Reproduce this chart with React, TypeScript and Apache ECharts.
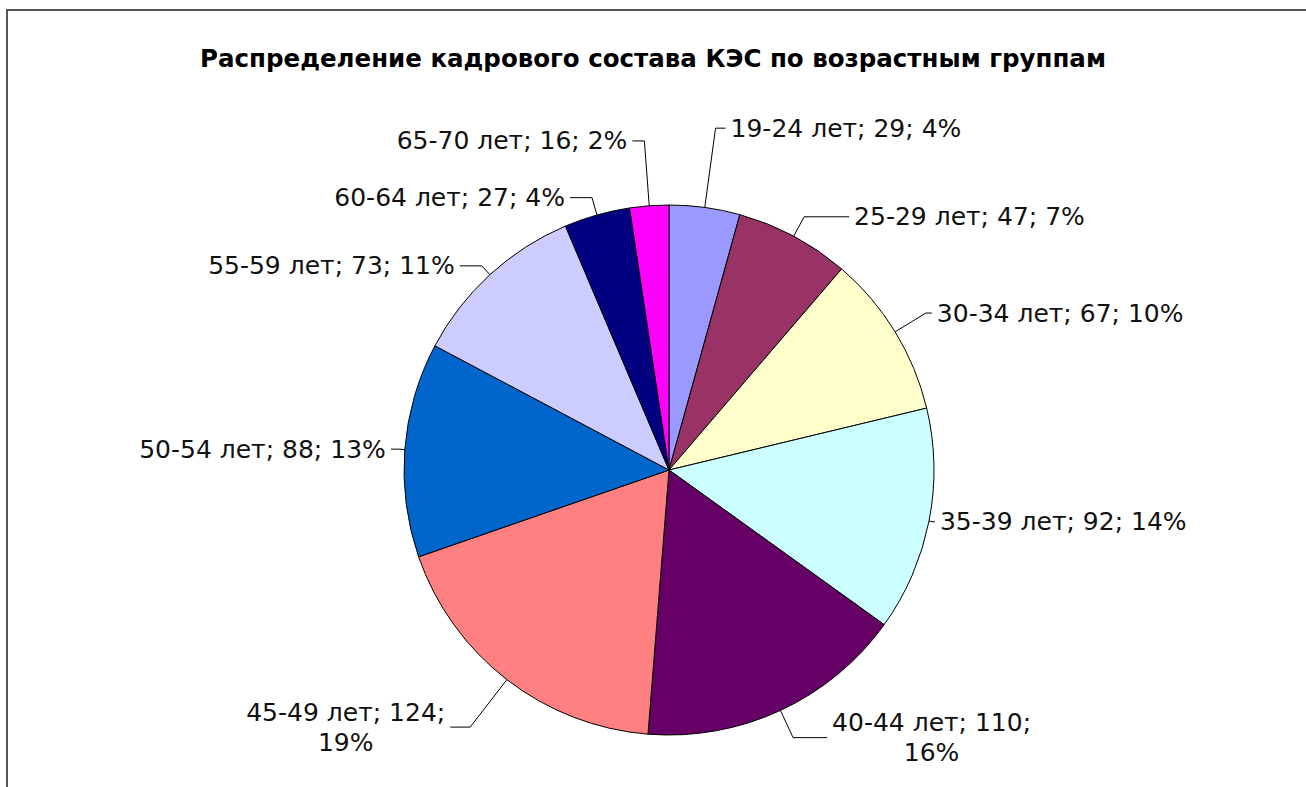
import React, { useEffect, useRef } from "react";
import * as echarts from "echarts";

const titleText = "Распределение кадрового состава КЭС по возрастным группам";
const categories = [
  "19-24 лет",
  "25-29 лет",
  "30-34 лет",
  "35-39 лет",
  "40-44 лет",
  "45-49 лет",
  "50-54 лет",
  "55-59 лет",
  "60-64 лет",
  "65-70 лет",
];
const values = [29, 47, 67, 92, 110, 124, 88, 73, 27, 16];
const colors = [
  "#9999FF",
  "#993366",
  "#FFFFCC",
  "#CCFFFF",
  "#660066",
  "#FF8080",
  "#0066CC",
  "#CCCCFF",
  "#000080",
  "#FF00FF",
];
const wrapped = ["40-44 лет", "45-49 лет"];
// leader line lengths per slice (styling)
const leadLen1 = [80, 22, 36, 4, 30, 60, 6, 12, 18, 65];
const leadLen2 = [10, 45, 6, 2, 34, 20, 8, 22, 22, 12];

export default function App() {
  const ref = useRef<HTMLDivElement>(null);
  useEffect(() => {
    if (!ref.current) return;
    const chart = echarts.init(ref.current, null, { renderer: "svg" });
    chart.setOption({
      animation: false,
      backgroundColor: "#ffffff",
      title: {
        text: titleText,
        left: "center",
        top: 41,
        textStyle: {
          fontFamily: "DejaVu Sans",
          fontWeight: "bold",
          fontSize: 24.5,
          color: "#000",
        },
      },
      graphic: [
        {
          type: "rect",
          shape: { x: 7, y: 10, width: 1320, height: 800 },
          style: { fill: "none", stroke: "#555", lineWidth: 2 },
          silent: true,
        },
      ],
      series: [
        {
          type: "pie",
          center: [669, 470],
          radius: 265,
          startAngle: 90,
          clockwise: true,
          percentPrecision: 0,
          avoidLabelOverlap: true,
          data: categories.map((name, i) => ({
            name,
            value: values[i],
            itemStyle: { color: colors[i] },
            labelLine: { length: leadLen1[i], length2: leadLen2[i] },
          })),
          itemStyle: { borderColor: "#000", borderWidth: 1 },
          label: {
            show: true,
            position: "outside",
            fontFamily: "DejaVu Sans",
            fontSize: 25,
            color: "#111",
            lineHeight: 30,
            formatter: (p: any) =>
              wrapped.includes(p.name)
                ? `{w|${p.name}; ${p.value};}\n{w|${p.percent}%}`
                : `${p.name}; ${p.value}; ${p.percent}%`,
            rich: {
              w: {
                align: "center",
                fontFamily: "DejaVu Sans",
                fontSize: 25,
                color: "#111",
                lineHeight: 30,
              },
            },
          },
          labelLine: {
            show: true,
            length: 14,
            length2: 10,
            lineStyle: { color: "#000", width: 1 },
          },
          emphasis: { disabled: true },
        },
      ],
    });
    return () => chart.dispose();
  }, []);
  return (
    <div
      ref={ref}
      style={{ position: "fixed", left: 0, top: 0, width: 1306, height: 787 }}
    />
  );
}
